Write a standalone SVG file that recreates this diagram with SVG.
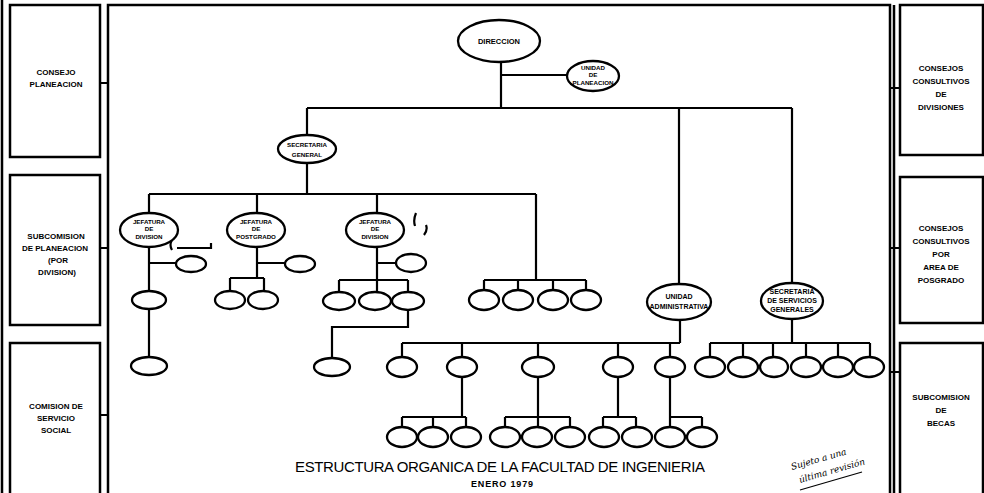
<svg xmlns="http://www.w3.org/2000/svg" width="984" height="493" viewBox="0 0 984 493">
<style>
.ln{stroke:#000;stroke-width:2.2;fill:none}
.fr{stroke:#000;stroke-width:2.5;fill:none}
.el{fill:#fff;stroke:#000;stroke-width:2.3}
.t{font-family:"Liberation Sans",Arial,sans-serif;font-weight:bold;text-anchor:middle;fill:#000}
.s6{font-size:6.2px}
.s7{font-size:7px}
.bx{font-size:8px}
</style>
<rect width="984" height="493" fill="#fff"/>
<g id="frames">
<path class="fr" d="M2,0 V493"/>
<rect class="fr" x="10" y="5" width="90" height="152"/>
<rect class="fr" x="10" y="175" width="90" height="150"/>
<rect class="fr" x="10" y="343" width="90" height="152"/>
<path class="fr" d="M108,495 V5 H890 V495"/>
<path class="fr" d="M894,5 V495"/>
<rect class="fr" x="900" y="5" width="83" height="150"/>
<rect class="fr" x="900" y="177" width="83" height="146"/>
<rect class="fr" x="900" y="343" width="83" height="152"/>
</g>
<g id="side-boxes">
<g id="consejo-planeacion"><text class="t bx" x="56" y="75">CONSEJO</text><text class="t bx" x="56" y="87">PLANEACION</text></g>
<g id="subcomision-planeacion"><text class="t bx" x="56" y="239">SUBCOMISION</text><text class="t bx" x="55" y="251">DE PLANEACION</text><text class="t bx" x="58" y="263">(POR</text><text class="t bx" x="57" y="275">DIVISION)</text></g>
<g id="comision-servicio-social"><text class="t bx" x="56" y="409">COMISION DE</text><text class="t bx" x="56" y="421">SERVICIO</text><text class="t bx" x="56" y="433">SOCIAL</text></g>
<g id="consejos-divisiones"><text class="t bx" x="941" y="71">CONSEJOS</text><text class="t bx" x="941" y="84">CONSULTIVOS</text><text class="t bx" x="941" y="97">DE</text><text class="t bx" x="941" y="110">DIVISIONES</text></g>
<g id="consejos-posgrado"><text class="t bx" x="941" y="231">CONSEJOS</text><text class="t bx" x="941" y="244">CONSULTIVOS</text><text class="t bx" x="941" y="257">POR</text><text class="t bx" x="941" y="270">AREA DE</text><text class="t bx" x="941" y="283">POSGRADO</text></g>
<g id="subcomision-becas"><text class="t bx" x="941" y="400">SUBCOMISION</text><text class="t bx" x="941" y="413">DE</text><text class="t bx" x="941" y="426">BECAS</text></g>
</g>
<g id="connectors">
<path class="ln" d="M100,83 H108 M100,248 H108 M100,415 H108 M890,88 H900 M890,248 H900 M890,372 H900"/>
<path class="ln" d="M501,62 V108 M501,75 H568 M307,108 H792 M307,108 V135 M679,108 V284 M792,108 V283"/>
<path class="ln" d="M307,163 V194 M149,194 H536 M149,194 V213 M257,194 V213 M377,194 V213 M536,194 V280 M484,280 H586 M484,280 V291 M518,280 V291 M553,280 V291 M586,280 V291"/>
<path class="ln" d="M149,247 V357 M149,263 H177"/>
<path class="ln" d="M257,247 V278 M257,263 H285 M230,278 H264 M230,278 V291 M264,278 V291"/>
<path class="ln" d="M377,247 V292 M377,263 H397 M339,280 H408 M339,280 V292 M408,280 V292 M408,310 V327 H332 V358"/>
<path class="ln" d="M680,320 V343 M402,343 H680 M402,343 V357 M462,343 V357 M538,343 V357 M618,343 V357 M670,343 V357"/>
<path class="ln" d="M462,377 V417 M402,417 H466 M402,417 V427 M433,417 V427 M466,417 V427"/>
<path class="ln" d="M538,377 V427 M505,417 H570 M505,417 V427 M570,417 V427"/>
<path class="ln" d="M618,377 V417 M603,417 H636 M603,417 V427 M636,417 V427"/>
<path class="ln" d="M670,377 V427 M670,417 H702 M702,417 V427"/>
<path class="ln" d="M792,319 V343 M710,343 H870 M710,343 V357 M743,343 V357 M773,343 V357 M806,343 V357 M838,343 V357 M870,343 V357"/>
<path class="ln" stroke-width="1.4" d="M172,240 Q169,245 172,250 M177,248 H211 V243 M416,213 Q413,220 415,226 M426,225 Q428,230 424,235"/>
</g>
<g id="direccion"><ellipse class="el" cx="499" cy="41" rx="41" ry="21"/><text class="t" font-size="7.5" x="499" y="44">DIRECCION</text></g>
<g id="unidad-planeacion"><ellipse class="el" cx="593" cy="76" rx="26" ry="15"/><text class="t s6" x="593" y="70">UNIDAD</text><text class="t s6" x="593" y="77">DE</text><text class="t s6" x="593" y="85">PLANEACION</text></g>
<g id="secretaria-general"><ellipse class="el" cx="307" cy="149" rx="29" ry="14"/><text class="t s6" x="307" y="147">SECRETARIA</text><text class="t s6" x="307" y="157">GENERAL</text></g>
<g id="jefatura-division-1"><ellipse class="el" cx="149" cy="230" rx="29" ry="17"/><text class="t s6" x="149" y="224">JEFATURA</text><text class="t s6" x="149" y="231">DE</text><text class="t s6" x="149" y="239">DIVISION</text></g>
<g id="jefatura-postgrado"><ellipse class="el" cx="256" cy="230" rx="29" ry="17"/><text class="t s6" x="256" y="224">JEFATURA</text><text class="t s6" x="256" y="231">DE</text><text class="t s6" x="256" y="239">POSTGRADO</text></g>
<g id="jefatura-division-2"><ellipse class="el" cx="375" cy="230" rx="29" ry="17"/><text class="t s6" x="375" y="224">JEFATURA</text><text class="t s6" x="375" y="231">DE</text><text class="t s6" x="375" y="239">DIVISION</text></g>
<g id="unidad-administrativa"><ellipse class="el" cx="679" cy="302" rx="32" ry="18"/><text class="t s7" x="679" y="299">UNIDAD</text><text class="t s7" x="679" y="309">ADMINISTRATIVA</text></g>
<g id="secretaria-servicios-generales"><ellipse class="el" cx="792" cy="301" rx="31" ry="18"/><text class="t s7" x="792" y="294">SECRETARIA</text><text class="t s7" x="792" y="303">DE SERVICIOS</text><text class="t s7" x="792" y="312">GENERALES</text></g>
<g id="n-d1a"><ellipse class="el" cx="191" cy="264" rx="15" ry="8"/></g>
<g id="n-d1b"><ellipse class="el" cx="149" cy="300" rx="17" ry="9"/></g>
<g id="n-d1c"><ellipse class="el" cx="149" cy="366" rx="18" ry="9"/></g>
<g id="n-pa"><ellipse class="el" cx="300" cy="264" rx="15" ry="8"/></g>
<g id="n-pb"><ellipse class="el" cx="230" cy="300" rx="15" ry="9"/></g>
<g id="n-pc"><ellipse class="el" cx="263" cy="300" rx="15" ry="9"/></g>
<g id="n-d2a"><ellipse class="el" cx="411" cy="263" rx="15" ry="9"/></g>
<g id="n-d2b"><ellipse class="el" cx="339" cy="301" rx="16" ry="9"/></g>
<g id="n-d2c"><ellipse class="el" cx="375" cy="301" rx="16" ry="9"/></g>
<g id="n-d2d"><ellipse class="el" cx="408" cy="301" rx="16" ry="9"/></g>
<g id="n-d2e"><ellipse class="el" cx="332" cy="367" rx="18" ry="9"/></g>
<g id="n-sg1"><ellipse class="el" cx="484" cy="300" rx="15" ry="10"/></g>
<g id="n-sg2"><ellipse class="el" cx="518" cy="300" rx="15" ry="10"/></g>
<g id="n-sg3"><ellipse class="el" cx="553" cy="300" rx="15" ry="10"/></g>
<g id="n-sg4"><ellipse class="el" cx="586" cy="300" rx="15" ry="10"/></g>
<g id="n-ua1"><ellipse class="el" cx="402" cy="367" rx="15" ry="10"/></g>
<g id="n-ua2"><ellipse class="el" cx="462" cy="367" rx="15" ry="10"/></g>
<g id="n-ua3"><ellipse class="el" cx="538" cy="367" rx="16" ry="10"/></g>
<g id="n-ua4"><ellipse class="el" cx="618" cy="367" rx="15" ry="10"/></g>
<g id="n-ua5"><ellipse class="el" cx="670" cy="367" rx="15" ry="10"/></g>
<g id="n-a1"><ellipse class="el" cx="402" cy="437" rx="15" ry="10"/></g>
<g id="n-a2"><ellipse class="el" cx="433" cy="437" rx="15" ry="10"/></g>
<g id="n-a3"><ellipse class="el" cx="466" cy="437" rx="15" ry="10"/></g>
<g id="n-b1"><ellipse class="el" cx="505" cy="437" rx="15" ry="10"/></g>
<g id="n-b2"><ellipse class="el" cx="537" cy="437" rx="15" ry="10"/></g>
<g id="n-b3"><ellipse class="el" cx="570" cy="437" rx="15" ry="10"/></g>
<g id="n-c1"><ellipse class="el" cx="604" cy="437" rx="15" ry="10"/></g>
<g id="n-c2"><ellipse class="el" cx="637" cy="437" rx="15" ry="10"/></g>
<g id="n-dd1"><ellipse class="el" cx="670" cy="437" rx="15" ry="10"/></g>
<g id="n-dd2"><ellipse class="el" cx="702" cy="437" rx="15" ry="10"/></g>
<g id="n-s1"><ellipse class="el" cx="710" cy="367" rx="15" ry="10"/></g>
<g id="n-s2"><ellipse class="el" cx="743" cy="367" rx="15" ry="10"/></g>
<g id="n-s3"><ellipse class="el" cx="774" cy="367" rx="14" ry="10"/></g>
<g id="n-s4"><ellipse class="el" cx="806" cy="367" rx="15" ry="10"/></g>
<g id="n-s5"><ellipse class="el" cx="838" cy="367" rx="15" ry="10"/></g>
<g id="n-s6"><ellipse class="el" cx="869" cy="367" rx="15" ry="10"/></g>
<g id="title">
<text x="500" y="472" font-family="'Liberation Sans',Arial,sans-serif" font-size="15" text-anchor="middle" textLength="410" lengthAdjust="spacing">ESTRUCTURA ORGANICA DE LA FACULTAD DE INGENIERIA</text>
<text x="502" y="487" font-family="'Liberation Sans',Arial,sans-serif" font-size="9" font-weight="bold" text-anchor="middle" textLength="62" lengthAdjust="spacing">ENERO 1979</text>
</g>
<g id="note" font-family="'DejaVu Serif',serif" font-style="italic" font-size="9">
<text x="792" y="470" transform="rotate(-16 792 470)">Sujeto a una</text>
<text x="800" y="483" transform="rotate(-16 800 483)">última revisión</text>
<path d="M800,490 L862,472" stroke="#000" stroke-width="1.2"/>
</g>
</svg>
